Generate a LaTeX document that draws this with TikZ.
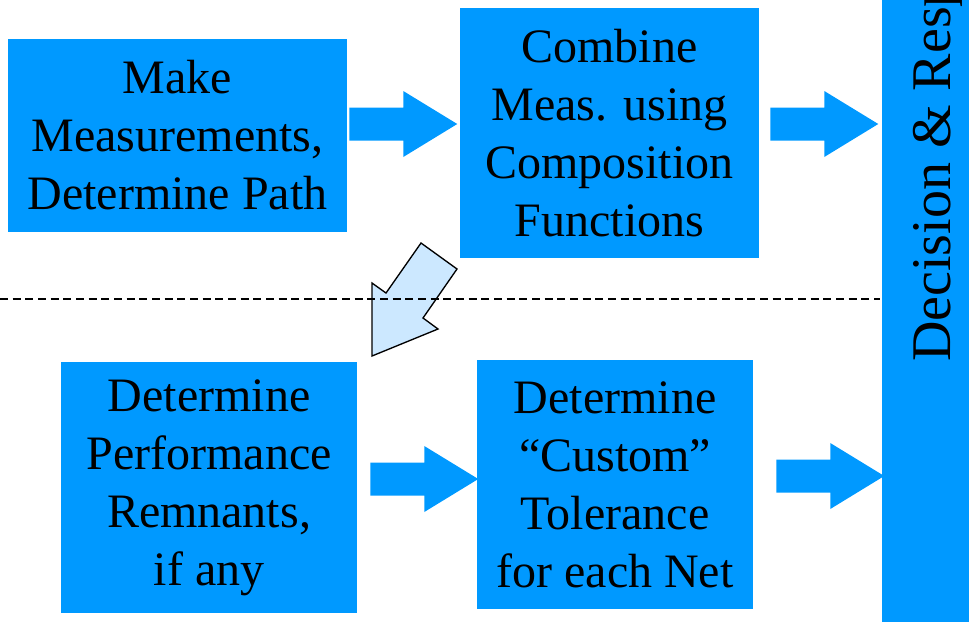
\documentclass[tikz,border=0pt]{standalone}
\usepackage{fontspec}
\setmainfont{Liberation Serif}
\usetikzlibrary{calc}
\definecolor{boxblue}{RGB}{0,153,255}
\definecolor{paleblue}{RGB}{204,232,255}
\tikzset{
 stagebox/.style={fill=boxblue, inner sep=0, align=center, font=\fontsize{36}{43.5}\selectfont},
 blockarr/.pic={\fill[boxblue] (0,-16.5) -- (54,-16.5) -- (54,-33) -- (108,0) -- (54,33) -- (54,16.5) -- (0,16.5) -- cycle;}
}

\begin{document}
\begin{tikzpicture}[x=0.75pt,y=-0.75pt]
\useasboundingbox (0,0) rectangle (969,622);
\clip (0,0) rectangle (969,622);
% stages
\node[stagebox, minimum width=254.25pt, minimum height=144.75pt] (meas) at (177.5,135.5) {Make\\Measurements,\\Determine Path};
\node[stagebox, minimum width=224.25pt, minimum height=187.5pt] (comb) at (609.5,133) {Combine\\Meas. using\\Composition\\Functions};
\node[stagebox, minimum width=222pt, minimum height=188.25pt] (remn) at (209,487.5) {Determine\\Performance\\Remnants,\\if any};
\node[stagebox, minimum width=207pt, minimum height=186.75pt] (tol) at (615,484.5) {Determine\\``Custom''\\Tolerance\\for each Net};
% decision bar
\fill[boxblue] (882,0) rectangle (980,622);
\node[rotate=90, anchor=base west, inner sep=0, font=\fontsize{42}{46}\selectfont] (dec) at (950,362) {Decision \& Response};
% block arrows
\path ($(meas.east)+(2,-11.5)$) pic {blockarr};
\path ($(comb.east)+(11,-9)$) pic {blockarr};
\path ($(remn.east)+(13,-8.5)$) pic {blockarr};
\path ($(tol.east)+(23,-8.5)$) pic {blockarr};
% step down
\draw[fill=paleblue, line width=1pt, line join=miter] (421,243) -- (457,269) -- (423,318) -- (438,329) -- (372,356) -- (372,283) -- (386,293) -- cycle;
\draw[line width=1pt, dash pattern=on 6pt off 3.5pt] (0,299) -- (880,299);
\end{tikzpicture}
\end{document}
